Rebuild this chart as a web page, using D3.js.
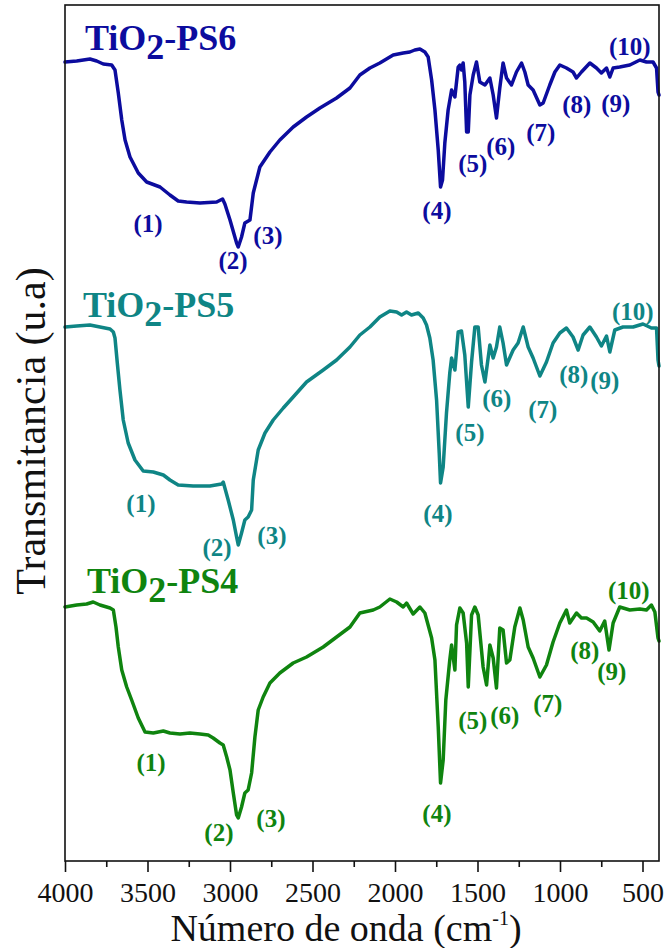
<!DOCTYPE html>
<html>
<head>
<meta charset="utf-8">
<script src="https://cdn.jsdelivr.net/npm/d3@7"></script>
<style>
  html, body { margin: 0; padding: 0; background: #fff; }
  svg { display: block; }
</style>
</head>
<body>
<svg id="chart" width="667" height="948"></svg>
<script>
// FTIR spectra of TiO2-PS samples: [wavenumber (cm-1), transmittance (a.u.)]
const ps6 = [
  [4000,79.9],[3929,80.0],[3849,80.2],[3808,80.0],[3768,79.7],[3717,79.6],[3697,79.1],[3677,76.8],
  [3656,74.1],[3636,72.1],[3606,70.4],[3556,68.8],[3505,67.9],[3424,67.4],[3364,66.6],[3314,66.0],
  [3263,65.9],[3182,65.8],[3081,65.9],[3045,66.2],[3031,65.7],[3000,64.1],[2960,61.8],[2950,61.4],
  [2930,62.4],[2910,63.8],[2879,64.1],[2859,66.8],[2819,69.4],[2758,70.9],[2698,72.1],[2617,73.4],
  [2536,74.4],[2455,75.3],[2354,76.3],[2273,77.3],[2213,78.6],[2152,79.3],[2092,79.8],[2011,80.6],
  [1950,80.8],[1910,80.9],[1880,81.1],[1849,81.2],[1819,80.9],[1799,80.4],[1778,78.1],[1758,75.1],
  [1738,71.1],[1724,67.4],[1712,68.1],[1698,71.8],[1678,75.1],[1657,77.1],[1637,76.4],[1617,79.4],
  [1607,79.6],[1597,79.1],[1587,79.8],[1577,77.9],[1566,72.9],[1556,72.9],[1546,76.6],[1526,78.6],
  [1506,79.9],[1486,77.9],[1455,77.6],[1425,78.3],[1405,76.6],[1385,74.3],[1365,77.3],[1345,79.8],
  [1324,78.3],[1294,77.6],[1264,78.9],[1233,79.8],[1213,78.9],[1193,77.6],[1163,77.1],[1122,75.6],
  [1102,75.8],[1062,77.6],[1031,78.9],[1001,79.6],[961,79.3],[921,78.9],[900,78.3],[870,78.9],
  [819,79.8],[779,79.3],[749,78.8],[718,79.3],[698,78.4],[678,79.3],[638,79.4],[577,79.6],
  [516,80.1],[476,79.9],[436,79.9],[415,79.3],[406,76.9],[400,76.6]
];

const ps5 = [
  [4000,53.4],[3929,53.5],[3849,53.6],[3788,53.4],[3727,53.2],[3707,52.9],[3697,52.3],[3683,49.8],
  [3667,47.1],[3647,44.1],[3617,41.8],[3576,40.1],[3526,39.0],[3465,38.9],[3404,38.6],[3364,38.1],
  [3314,37.6],[3223,37.5],[3122,37.5],[3051,37.7],[3041,37.9],[3031,37.3],[3011,36.1],[2980,34.1],
  [2960,32.4],[2950,31.6],[2930,32.8],[2910,34.1],[2890,34.4],[2869,35.1],[2859,38.1],[2829,41.1],
  [2788,42.8],[2738,44.1],[2677,45.3],[2617,46.4],[2536,47.9],[2435,49.1],[2354,50.1],[2273,51.4],
  [2213,52.6],[2152,53.4],[2092,54.4],[2031,55.0],[1990,54.9],[1960,54.6],[1930,54.9],[1900,54.6],
  [1859,54.8],[1829,54.3],[1809,53.6],[1789,52.3],[1769,50.1],[1748,46.1],[1732,40.8],[1724,37.8],
  [1708,39.4],[1688,44.8],[1668,48.8],[1657,50.3],[1637,49.1],[1617,52.9],[1597,53.0],[1577,50.6],
  [1556,45.4],[1536,49.9],[1516,53.4],[1496,53.4],[1476,49.6],[1455,47.9],[1425,51.6],[1405,50.3],
  [1385,51.4],[1365,53.4],[1345,51.8],[1324,49.6],[1284,51.1],[1254,51.8],[1223,53.4],[1193,51.4],
  [1163,50.3],[1122,48.5],[1082,49.9],[1042,51.8],[1001,52.8],[961,53.3],[921,52.4],[890,51.1],
  [860,52.6],[819,53.4],[779,52.4],[749,51.5],[718,52.5],[698,50.9],[668,53.1],[618,53.4],
  [557,53.4],[497,53.7],[446,53.3],[415,53.3],[406,50.1],[400,49.5]
];

const ps4 = [
  [4000,25.4],[3929,25.6],[3869,25.7],[3829,25.9],[3788,25.6],[3727,25.3],[3707,25.1],[3691,23.4],
  [3677,21.4],[3656,19.1],[3626,17.4],[3596,16.1],[3556,14.3],[3515,12.9],[3465,12.8],[3404,13.0],
  [3364,12.8],[3303,12.7],[3243,12.8],[3182,12.7],[3132,12.6],[3102,12.3],[3061,11.8],[3041,11.6],
  [3020,10.4],[3000,9.1],[2980,6.8],[2960,4.6],[2950,4.3],[2930,5.4],[2910,6.8],[2890,7.1],
  [2869,8.8],[2849,12.4],[2829,15.1],[2799,16.4],[2758,17.8],[2698,18.8],[2617,19.8],[2536,20.4],
  [2435,21.4],[2354,22.4],[2273,23.4],[2213,24.8],[2132,25.1],[2092,25.4],[2031,26.2],[1990,25.9],
  [1950,25.4],[1930,25.8],[1890,24.7],[1849,25.4],[1819,24.8],[1778,22.3],[1758,20.1],[1738,13.4],
  [1724,7.8],[1708,10.1],[1692,16.1],[1668,20.1],[1657,21.6],[1637,19.1],[1627,23.6],[1607,25.3],
  [1587,24.8],[1566,21.8],[1556,17.4],[1536,24.6],[1516,25.4],[1496,24.6],[1466,19.4],[1445,17.6],
  [1425,21.6],[1405,20.3],[1385,17.3],[1365,23.3],[1345,23.1],[1324,19.8],[1304,20.1],[1274,23.4],
  [1243,25.3],[1223,24.1],[1193,21.4],[1163,20.3],[1122,18.4],[1082,19.6],[1042,21.9],[1001,23.8],
  [961,25.1],[941,23.8],[900,24.8],[870,24.3],[839,24.3],[799,23.9],[759,23.0],[729,24.0],
  [703,21.1],[678,23.8],[638,25.4],[577,25.1],[516,25.2],[476,25.1],[446,25.6],[425,24.9],
  [406,22.3],[400,22.0]
];

// Band annotations (1)…(10): anchor [wavenumber, transmittance]
const ps6Bands = [[3497,63.8],[2982,60.1],[2770,62.6],[1746,65.1],[1528,69.8],[1359,71.5],[1116,72.9],[898,75.7],[662,75.8],[577,81.5]];
const ps5Bands = [[3540,35.8],[3079,31.4],[2746,32.6],[1740,34.8],[1546,42.9],[1383,46.3],[1104,45.2],[916,48.7],[728,48.1],[559,55.0]];
const ps4Bands = [[3479,9.9],[3067,2.9],[2752,4.3],[1746,4.8],[1528,14.1],[1334,14.6],[1074,15.8],[850,21.1],[686,19.0],[583,27.1]];

const sampleNames = ["PS6", "PS5", "PS4"];
const nameAnchors = [[3879,81.1],[3891,54.4],[3867,26.8]];
const xTickValues = [4000, 3500, 3000, 2500, 2000, 1500, 1000, 500];
const xMinorTicks = [3750, 3250, 2750, 2250, 1750, 1250, 750];

const colors = ["#0c0c9e", "#0f8585", "#0f840f"];
const spectra = [ps6, ps5, ps4];
const bands = [ps6Bands, ps5Bands, ps4Bands];

const svg = d3.select("#chart");
const serif = "'Liberation Serif', 'Times New Roman', serif";
const plot = { left: 65, right: 659, top: 5, bottom: 861 };

const x = d3.scaleLinear().domain([4000, 400]).range([plot.left, plot.right]);
const y = d3.scaleLinear().domain([0, 85.6]).range([plot.bottom, plot.top]);

svg.append("rect").attr("width", 667).attr("height", 948).attr("fill", "#fff");

// spectra
const line = d3.line().x(d => x(d[0])).y(d => y(d[1]));
spectra.forEach((s, i) => {
  svg.append("path")
    .datum(s)
    .attr("d", line)
    .attr("fill", "none")
    .attr("stroke", colors[i])
    .attr("stroke-width", 3.5)
    .attr("stroke-linejoin", "round")
    .attr("stroke-linecap", "round");
});

// band labels
bands.forEach((b, i) => {
  svg.append("g").selectAll("text")
    .data(b)
    .join("text")
    .attr("x", d => x(d[0]))
    .attr("y", d => y(d[1]))
    .attr("text-anchor", "middle")
    .attr("dominant-baseline", "central")
    .attr("font-family", serif)
    .attr("font-weight", "bold")
    .attr("font-size", 25)
    .attr("fill", colors[i])
    .text((d, j) => `(${j + 1})`);
});

// sample names
sampleNames.forEach((n, i) => {
  const t = svg.append("text")
    .attr("x", x(nameAnchors[i][0]))
    .attr("y", y(nameAnchors[i][1]))
    .attr("font-family", serif)
    .attr("font-weight", "bold")
    .attr("font-size", 36)
    .attr("fill", colors[i]);
  t.append("tspan").text("TiO");
  t.append("tspan").attr("dy", 9).text("2");
  t.append("tspan").attr("dy", -9).text("-" + n);
});

// frame
svg.append("rect")
  .attr("x", plot.left).attr("y", plot.top)
  .attr("width", plot.right - plot.left).attr("height", plot.bottom - plot.top)
  .attr("fill", "none").attr("stroke", "#111").attr("stroke-width", 1.6);

// x axis
const xAxis = svg.append("g")
  .attr("transform", `translate(0,${plot.bottom})`)
  .call(d3.axisBottom(x).tickValues(xTickValues).tickSize(11).tickPadding(10).tickFormat(d3.format("d")));
xAxis.select(".domain").remove();
xAxis.selectAll(".tick line").attr("stroke", "#111").attr("stroke-width", 1.6);
xAxis.selectAll("text")
  .attr("font-family", serif)
  .attr("font-size", 28)
  .attr("fill", "#111");

const xMinor = svg.append("g")
  .attr("transform", `translate(0,${plot.bottom})`)
  .call(d3.axisBottom(x).tickValues(xMinorTicks).tickSize(6).tickFormat(""));
xMinor.select(".domain").remove();
xMinor.selectAll(".tick line").attr("stroke", "#111").attr("stroke-width", 1.6);

// axis titles
const xt = svg.append("text")
  .attr("x", 346).attr("y", 941)
  .attr("text-anchor", "middle")
  .attr("font-family", serif)
  .attr("font-size", 38)
  .attr("fill", "#111");
xt.append("tspan").text("Número de onda (cm");
xt.append("tspan").attr("font-size", 20).attr("dy", -16).text("-1");
xt.append("tspan").attr("dy", 16).text(")");

svg.append("text")
  .attr("transform", "translate(45,431) rotate(-90)")
  .attr("text-anchor", "middle")
  .attr("font-family", serif)
  .attr("font-size", 42)
  .attr("fill", "#111")
  .text("Transmitancia (u.a)");
</script>
</body>
</html>
